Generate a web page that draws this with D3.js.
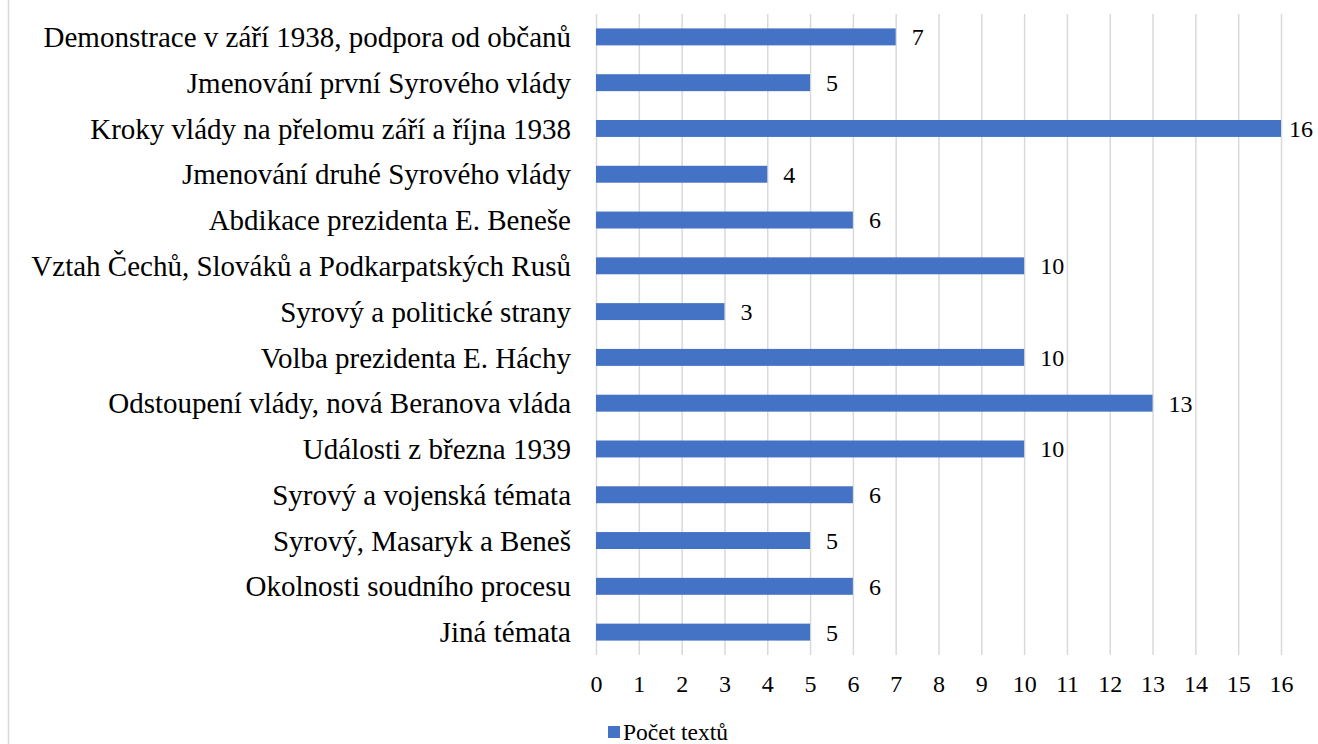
<!DOCTYPE html>
<html>
<head>
<meta charset="utf-8">
<script src="https://cdn.jsdelivr.net/npm/d3@7"></script>
</head>
<body style="margin:0; background:#fff">
<div id="chart"></div>
<script>
// data
var categories = [
  "Demonstrace v září 1938, podpora od občanů",
  "Jmenování první Syrového vlády",
  "Kroky vlády na přelomu září a října 1938",
  "Jmenování druhé Syrového vlády",
  "Abdikace prezidenta E. Beneše",
  "Vztah Čechů, Slováků a Podkarpatských Rusů",
  "Syrový a politické strany",
  "Volba prezidenta E. Háchy",
  "Odstoupení vlády, nová Beranova vláda",
  "Události z března 1939",
  "Syrový a vojenská témata",
  "Syrový, Masaryk a Beneš",
  "Okolnosti soudního procesu",
  "Jiná témata"
];
var values = [7, 5, 16, 4, 6, 10, 3, 10, 13, 10, 6, 5, 6, 5];
var xTicks = d3.range(0, 17);
var seriesName = "Počet textů";

var FONT = "'Liberation Serif'";

var W = 1318, H = 744;
var margin = {top: 14, right: 37, bottom: 89, left: 596};
var width = W - margin.left - margin.right,
    height = H - margin.top - margin.bottom;

var svg = d3.select("#chart").append("svg")
    .attr("width", W)
    .attr("height", H);

// outer frame edge on the left
svg.append("line")
    .attr("x1", 8.5).attr("x2", 8.5)
    .attr("y1", 0).attr("y2", H)
    .attr("stroke", "#d9d9d9").attr("stroke-width", 1.5);

var g = svg.append("g")
    .attr("transform", "translate(" + margin.left + "," + margin.top + ")");

var x = d3.scaleLinear().domain([0, 16]).range([0, width]);
var y = d3.scaleBand().domain(categories).range([0, height]).paddingInner(0.63).paddingOuter(0.315);

// gridlines
g.append("g")
  .selectAll("line")
  .data(xTicks)
  .enter().append("line")
    .attr("x1", function(d) { return x(d) + 0.5; })
    .attr("x2", function(d) { return x(d) + 0.5; })
    .attr("y1", 0)
    .attr("y2", height)
    .attr("stroke", "#d9d9d9")
    .attr("stroke-width", 1.5);

// bars
g.append("g")
  .selectAll("rect")
  .data(values)
  .enter().append("rect")
    .attr("x", x(0))
    .attr("y", function(d, i) { return y(categories[i]); })
    .attr("width", function(d) { return x(d) - x(0); })
    .attr("height", y.bandwidth())
    .attr("fill", "#4472c4");

// value labels (the last one gets nudged in so it stays inside the frame)
g.append("g")
  .selectAll("text")
  .data(values)
  .enter().append("text")
    .attr("x", function(d) { return Math.min(x(d) + 16, width + 8); })
    .attr("y", function(d, i) { return y(categories[i]) + y.bandwidth() / 2; })
    .attr("dy", "0.35em")
    .style("font-family", FONT)
    .style("font-size", "24px")
    .style("fill", "#000")
    .text(function(d) { return d; });

// category labels
g.append("g")
  .selectAll("text")
  .data(categories)
  .enter().append("text")
    .attr("x", -25)
    .attr("y", function(d) { return y(d) + y.bandwidth() / 2; })
    .attr("dy", "0.35em")
    .attr("text-anchor", "end")
    .style("font-family", FONT)
    .style("font-size", "29px")
    .style("fill", "#000")
    .text(function(d) { return d; });

// x axis tick labels
var xAxis = d3.axisBottom(x).tickValues(xTicks).tickSize(0).tickPadding(20);
var ax = g.append("g")
    .attr("transform", "translate(0," + height + ")")
    .call(xAxis);
ax.select(".domain").remove();
ax.selectAll("text")
    .style("font-family", FONT)
    .style("font-size", "24px")
    .style("fill", "#000");

// legend
var leg = svg.append("g").attr("transform", "translate(608,732)");
leg.append("rect")
    .attr("x", 0).attr("y", -6)
    .attr("width", 12).attr("height", 12)
    .attr("fill", "#4472c4");
leg.append("text")
    .attr("x", 15).attr("y", 0)
    .attr("dy", "0.35em")
    .style("font-family", FONT)
    .style("font-size", "23.5px")
    .style("fill", "#000")
    .text(seriesName);
</script>
</body>
</html>
